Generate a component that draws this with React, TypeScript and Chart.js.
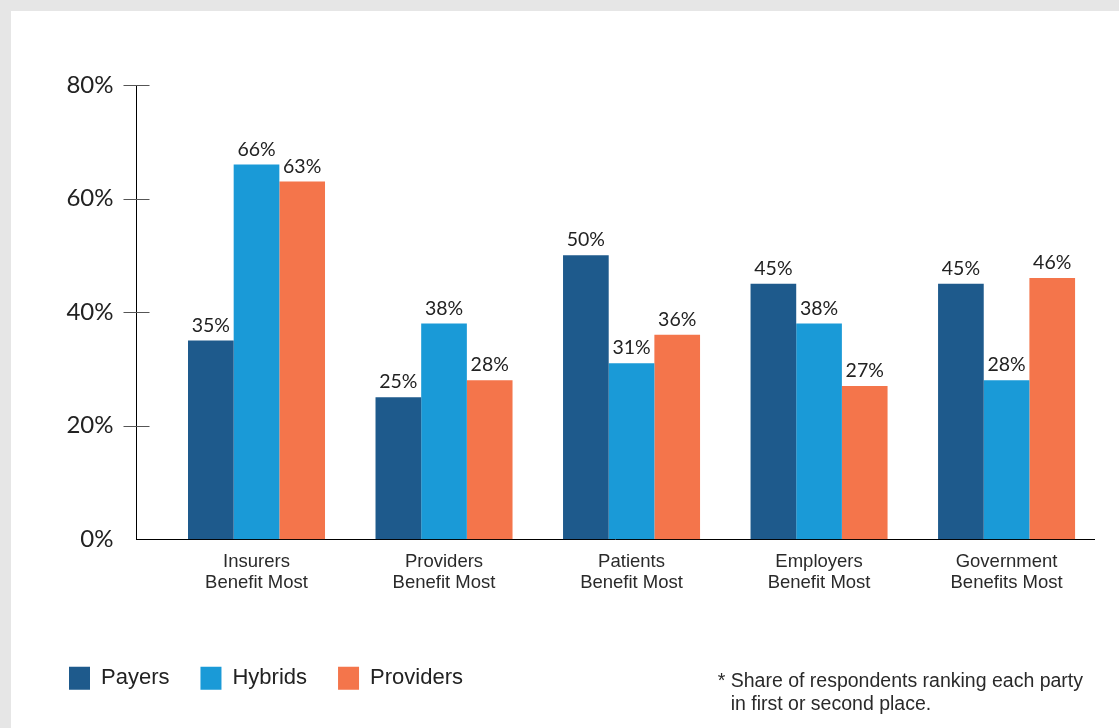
import React, { useEffect, useRef } from "react";
import { Chart, registerables } from "chart.js";

Chart.register(...registerables);

const categories: string[][] = [
  ["Insurers", "Benefit Most"],
  ["Providers", "Benefit Most"],
  ["Patients", "Benefit Most"],
  ["Employers", "Benefit Most"],
  ["Government", "Benefits Most"],
];
const seriesNames = ["Payers", "Hybrids", "Providers"];
const payers = [35, 25, 50, 45, 45];
const hybrids = [66, 38, 31, 38, 28];
const providers = [63, 28, 36, 27, 46];
const yTickValues = [0, 20, 40, 60, 80];
const footnoteLines = ["Share of respondents ranking each party", "in first or second place."];

const COLORS = ["#1e5a8c", "#1a9ad7", "#f4754b"];
const TEXT = "#222222";
const NUM_FONT = "Lato, 'Liberation Sans', sans-serif";
const TXT_FONT = "'Liberation Sans', Arial, sans-serif";

const yTickMarks = {
  id: "yTickMarks",
  afterDraw(chart: any) {
    const { ctx, chartArea, scales } = chart;
    const y = scales.y;
    ctx.save();
    ctx.strokeStyle = "#555555";
    ctx.lineWidth = 1;
    yTickValues.forEach((v) => {
      if (v === 0) return;
      const py = Math.round(y.getPixelForValue(v)) + 0.5;
      ctx.beginPath();
      ctx.moveTo(chartArea.left - 13, py);
      ctx.lineTo(chartArea.left + 13, py);
      ctx.stroke();
    });
    ctx.restore();
  },
};

const valueLabels = {
  id: "valueLabels",
  afterDatasetsDraw(chart: any) {
    const { ctx } = chart;
    ctx.save();
    ctx.font = `19.5px ${NUM_FONT}`;
    ctx.fillStyle = TEXT;
    ctx.textAlign = "center";
    ctx.textBaseline = "alphabetic";
    chart.data.datasets.forEach((ds: any, di: number) => {
      const meta = chart.getDatasetMeta(di);
      meta.data.forEach((el: any, i: number) => {
        const v = ds.data[i].y;
        ctx.fillText(`${v}%`, el.x, el.y - 9);
      });
    });
    ctx.restore();
  },
};

export default function App() {
  const ref = useRef<HTMLCanvasElement | null>(null);

  useEffect(() => {
    if (!ref.current) return;
    const series = [payers, hybrids, providers];
    const chart = new Chart(ref.current, {
      type: "bar",
      data: {
        datasets: series.map((vals, si) => ({
          label: seriesNames[si],
          data: vals.map((v, i) => ({ x: i, y: v })),
          backgroundColor: COLORS[si],
          borderWidth: 0,
          barPercentage: 1,
          categoryPercentage: 0.7307,
        })),
      },
      options: {
        responsive: false,
        animation: false,
        layout: { padding: { left: 27, right: 24.3, top: 74, bottom: 28.3 } },
        plugins: {
          tooltip: { enabled: false },
          legend: {
            position: "bottom",
            align: "start",
            labels: {
              boxWidth: 21,
              boxHeight: 23,
              padding: 31,
              color: TEXT,
              font: { size: 22, family: TXT_FONT },
            },
          },
        },
        scales: {
          x: {
            type: "linear",
            min: -0.64,
            max: 4.47,
            offset: false,
            grid: { display: false, drawTicks: false },
            border: { display: true, color: "#000000", width: 1 },
            afterBuildTicks: (scale: any) => {
              scale.ticks = categories.map((_, i) => ({ value: i }));
            },
            afterFit: (scale: any) => {
              scale.height = 96.4;
            },
            ticks: {
              padding: 12,
              autoSkip: false,
              maxRotation: 0,
              color: "#2a2a2a",
              font: { size: 18.5, family: TXT_FONT, lineHeight: 1.15 },
              callback: (value: any) => {
                const i = Math.round(Number(value));
                return categories[i] ? categories[i] : "";
              },
            },
          },
          y: {
            min: 0,
            max: 80,
            grid: { display: false, drawTicks: false },
            border: { display: true, color: "#000000", width: 1 },
            afterFit: (scale: any) => {
              scale.width = 98.5;
            },
            afterBuildTicks: (scale: any) => {
              scale.ticks = yTickValues.map((v) => ({ value: v }));
            },
            ticks: {
              padding: 23,
              color: TEXT,
              font: { size: 24, family: NUM_FONT },
              callback: (v: any) => `${v}%`,
            },
          },
        },
      },
      plugins: [yTickMarks, valueLabels],
    } as any);
    return () => chart.destroy();
  }, []);

  return (
    <div
      style={{
        position: "fixed",
        left: 0,
        top: 0,
        width: 1119,
        height: 728,
        background: "#e6e6e6",
        overflow: "hidden",
      }}
    >
      <div
        style={{
          position: "absolute",
          left: 11,
          top: 11,
          width: 1108,
          height: 717,
          background: "#ffffff",
        }}
      >
        <canvas ref={ref} width={1108} height={717} style={{ display: "block" }} />
        <div
          style={{
            position: "absolute",
            left: 706.7,
            top: 657.5,
            paddingLeft: 13,
            textIndent: -13,
            fontFamily: TXT_FONT,
            fontSize: 19.5,
            lineHeight: "23px",
            color: "#2a2a2a",
            whiteSpace: "nowrap",
          }}
        >
          {"* " + footnoteLines[0]}
          <br />
          {footnoteLines[1]}
        </div>
      </div>
    </div>
  );
}
